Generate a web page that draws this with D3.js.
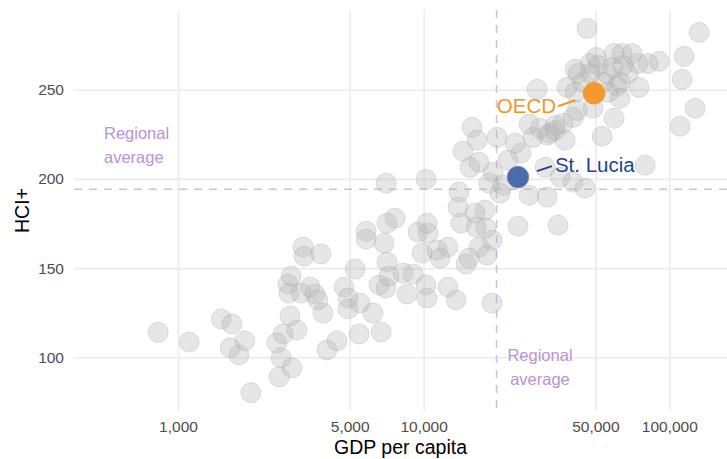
<!DOCTYPE html>
<html>
<head>
<meta charset="utf-8">
<script src="https://cdn.jsdelivr.net/npm/d3@7"></script>
<style>
    body { margin: 0; background: #ffffff; }
    svg { font-family: "Liberation Sans", Arial, sans-serif; }
</style>
</head>
<body>
<svg></svg>
<script>

// countries (GDP per capita, HCI+)
const gdp = [
    830, 1110, 1500, 1660, 1630, 1770, 1870, 1980, 2530, 2630,
    2580, 2910, 2680, 3050, 2860, 3230, 3260, 3820, 2890, 2800,
    2830, 3170, 3450, 3610, 3710, 3890, 4040, 4440, 4740, 4920,
    4920, 5510, 6220, 5460, 6710, 5260, 5830, 5830, 6900, 7090,
    6580, 7030, 7230, 8560, 8240, 9050, 10220, 10320, 12570, 13550,
    9850, 11660, 11340, 12570, 9490, 10420, 10320, 7650, 7090, 7030,
    10220, 13940, 13800, 14200, 14460, 15740, 16500, 19900, 15450, 16810,
    19170, 22060, 23560, 24920, 26870, 27890, 29790, 32710, 34280, 18470,
    20470, 21040, 16190, 17780, 16340, 17950, 18990, 16810, 18120, 15300,
    14880, 18990, 24220, 35250, 26870, 31810, 31220, 35930, 40570, 45420,
    46280, 132300, 114900, 112800, 127400, 110700, 90880, 81950, 74600, 70570,
    64260, 59600, 50350, 47600, 41350, 42500, 51300, 55800, 59000, 64800,
    67900, 63060, 61300, 75300, 63060, 28960, 38370, 41350, 48950, 59600,
    42140, 40580, 36940, 53750, 44560, 47600, 53270, 79700, 37650, 34280,
    31810, 56300
]

const hci = [
    114, 108.6, 121.5, 118.7, 105.3, 101.3, 109.2, 80.1, 108.1, 99.7,
    89, 94.1, 113.1, 115.3, 123.2, 161.8, 156.7, 157.9, 145.5, 141.1,
    136, 136, 139.4, 135.5, 132.1, 124.8, 104.1, 109.2, 139.4, 133.2,
    127.1, 130.4, 124.8, 113.1, 114.2, 149.5, 170.7, 166.3, 164, 153.4,
    140.5, 138.8, 145.5, 135.5, 147.2, 146.7, 140.5, 133.2, 139.4, 132.1,
    158.4, 155.6, 160.1, 161.8, 170.2, 169.6, 175.2, 178, 175.2, 197.6,
    199.8, 192.6, 184.2, 175.2, 215.5, 228.9, 221.7, 223.3, 206.5, 209.3,
    203.7, 210.5, 220, 214.4, 230.6, 223.3, 228.4, 225.6, 230, 197.6,
    192, 196.5, 180.8, 182.5, 173, 172.4, 165.7, 161.8, 157.3, 155.6,
    152.3, 130.4, 173.5, 174.1, 190.9, 189.8, 206.5, 201, 198.2, 194.8,
    284.3, 282.1, 268.7, 255.8, 239.6, 229.5, 265.9, 264.7, 264.7, 270.3,
    270.3, 270.3, 268.1, 264.7, 261.4, 259.1, 263.6, 259.1, 262.5, 263.6,
    259.1, 254.1, 251.9, 251.3, 245.2, 250.2, 251.3, 248.5, 239.6, 234,
    238.4, 234.5, 231.2, 254.1, 254.1, 259.1, 223.9, 207.7, 221.7, 227.3,
    224.5, 248.5
]

const highlights = ["OECD", "St. Lucia"]
const highlightGdp = [49400, 24200]
const highlightHci = [248, 201]

const regionalGdp = 19800
const regionalHci = 194.2

const xTicks = [1000, 5000, 10000, 50000, 100000]
const yTicks = [100, 150, 200, 250]

const width = 727
const height = 459
const panel = {left: 74, right: 727, top: 10, bottom: 411}

const svg = d3.select("svg")
    .attr("width", width)
    .attr("height", height)

const x = d3.scaleLog()
    .domain([1000, 100000])
    .range([178, 669.3])

const y = d3.scaleLinear()
    .domain([100, 250])
    .range([357.3, 89.7])

// grid + tick labels
svg.append("g")
    .attr("transform", `translate(0, ${panel.bottom})`)
    .call(d3.axisBottom(x)
        .tickValues(xTicks)
        .tickFormat(d3.format(","))
        .tickSize(-(panel.bottom - panel.top))
        .tickPadding(10))

svg.append("g")
    .attr("transform", `translate(${panel.left}, 0)`)
    .call(d3.axisLeft(y)
        .tickValues(yTicks)
        .tickSize(-(panel.right - panel.left))
        .tickPadding(10))

svg.selectAll(".domain").remove()

svg.selectAll(".tick line")
    .attr("stroke", "#ebebeb")
    .attr("stroke-width", 1.6)

svg.selectAll(".tick text")
    .attr("fill", "#4d4d4d")
    .style("font-size", "15.5px")

// regional average lines
const lavender = "#d0bde5"

svg.append("line")
    .attr("x1", panel.left)
    .attr("x2", panel.right)
    .attr("y1", y(regionalHci))
    .attr("y2", y(regionalHci))
    .attr("stroke", lavender)
    .attr("stroke-width", 1.5)
    .attr("stroke-dasharray", "8,7")

svg.append("line")
    .attr("x1", x(regionalGdp))
    .attr("x2", x(regionalGdp))
    .attr("y1", panel.top)
    .attr("y2", panel.bottom)
    .attr("stroke", lavender)
    .attr("stroke-width", 1.5)
    .attr("stroke-dasharray", "8,7")

// all countries
const points = gdp.map((d, i) => ({gdp: d, hci: hci[i]}))

svg.append("g")
    .selectAll("circle")
    .data(points)
    .enter()
    .append("circle")
    .attr("cx", d => x(d.gdp))
    .attr("cy", d => y(d.hci))
    .attr("r", 10)
    .attr("fill", "#b3b3b3")
    .attr("fill-opacity", 0.33)
    .attr("stroke", "#a8a8a8")
    .attr("stroke-opacity", 0.35)
    .attr("stroke-width", 1)

// OECD + St. Lucia
const fills = ["#f29a2e", "#4b6cab"]
const strokes = ["#f29a2e", "#7f8fb0"]
const textColors = ["#f0962b", "#1c4595"]

svg.append("g")
    .selectAll("circle")
    .data(highlights)
    .enter()
    .append("circle")
    .attr("cx", (d, i) => x(highlightGdp[i]))
    .attr("cy", (d, i) => y(highlightHci[i]))
    .attr("r", 10.8)
    .attr("fill", (d, i) => fills[i])
    .attr("stroke", (d, i) => strokes[i])
    .attr("stroke-width", 1)

// OECD label
const ox = x(highlightGdp[0])
const oy = y(highlightHci[0])
svg.append("line")
    .attr("x1", ox - 19).attr("y1", oy + 7)
    .attr("x2", ox - 36).attr("y2", oy + 13)
    .attr("stroke", textColors[0]).attr("stroke-width", 2)
svg.append("text")
    .attr("x", ox - 38)
    .attr("y", oy + 20)
    .attr("text-anchor", "end")
    .attr("fill", textColors[0])
    .style("font-size", "20.5px")
    .text(highlights[0])

// St. Lucia label
const sx = x(highlightGdp[1])
const sy = y(highlightHci[1])
svg.append("line")
    .attr("x1", sx + 19).attr("y1", sy - 6)
    .attr("x2", sx + 34).attr("y2", sy - 11)
    .attr("stroke", textColors[1]).attr("stroke-width", 2)
svg.append("text")
    .attr("x", sx + 37)
    .attr("y", sy - 5)
    .attr("fill", textColors[1])
    .style("font-size", "20.5px")
    .text(highlights[1])

// regional average labels
const labelColor = "#b793d3"

const leftLabel = svg.append("text")
    .attr("fill", labelColor)
    .style("font-size", "16.5px")
leftLabel.append("tspan").attr("x", 104).attr("y", 138.5).text("Regional")
leftLabel.append("tspan").attr("x", 104).attr("y", 162.5).text("average")

const bottomLabel = svg.append("text")
    .attr("fill", labelColor)
    .attr("text-anchor", "middle")
    .style("font-size", "16.5px")
bottomLabel.append("tspan").attr("x", 540).attr("y", 361).text("Regional")
bottomLabel.append("tspan").attr("x", 540).attr("y", 385).text("average")

// axis titles
svg.append("text")
    .attr("x", (panel.left + panel.right) / 2)
    .attr("y", 453.5)
    .attr("text-anchor", "middle")
    .attr("fill", "#000000")
    .style("font-size", "19.5px")
    .text("GDP per capita")

svg.append("text")
    .attr("transform", `translate(29, ${(panel.top + panel.bottom) / 2}) rotate(-90)`)
    .attr("text-anchor", "middle")
    .attr("fill", "#000000")
    .style("font-size", "19.5px")
    .text("HCI+")

</script>
</body>
</html>
